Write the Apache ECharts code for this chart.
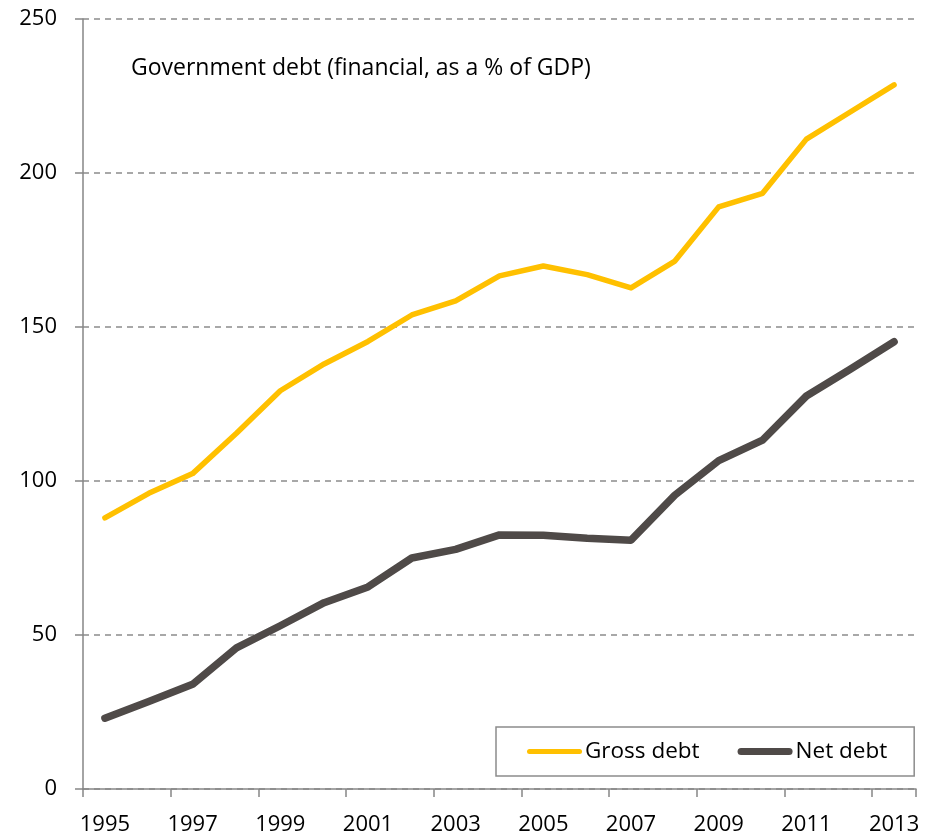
<!DOCTYPE html>
<html>
<head>
<meta charset="utf-8">
<script src="https://cdn.jsdelivr.net/npm/echarts@6/dist/echarts.min.js"></script>
<style>
  html, body { margin: 0; padding: 0; background: #ffffff; }
  #chart { width: 936px; height: 838px; }
</style>
</head>
<body>
<div id="chart"></div>
<script>
// Government debt, financial, as a % of GDP
const years = ['1995','1996','1997','1998','1999','2000','2001','2002','2003','2004',
               '2005','2006','2007','2008','2009','2010','2011','2012','2013'];
const grossDebt = [88.0, 96.0, 102.4, 115.5, 129.3, 138.0, 145.3, 153.9, 158.5, 166.6,
                   169.8, 167.0, 162.7, 171.4, 189.0, 193.4, 211.0, 219.8, 228.6];
const netDebt = [23.0, 28.4, 34.0, 45.8, 53.0, 60.5, 65.6, 75.0, 77.8, 82.5,
                 82.4, 81.4, 80.8, 95.4, 106.6, 113.3, 127.6, 136.3, 145.2];
const seriesNames = ['Gross debt', 'Net debt'];
const titleText = 'Government debt (financial, as a % of GDP)';

const FONT = '"Open Sans", "Noto Sans", sans-serif';
const AXIS_GREY = '#868686';
const GOLD = '#FFC000';
const CHARCOAL = '#4f4a48';

// Legend swatches: a round-ended bar inside a 55x22 box (the corner moves fix the box)
const thinBar = 'path://M0,0M55,22M2.5,8.5h50a2.5,2.5 0 0 1 0,5h-50a2.5,2.5 0 0 1 0,-5z';
const thickBar = 'path://M0,0M55,22M3.5,7.5h48a3.5,3.5 0 0 1 0,7h-48a3.5,3.5 0 0 1 0,-7z';

const chart = echarts.init(document.getElementById('chart'), null, { renderer: 'canvas' });

chart.setOption({
  animation: false,
  backgroundColor: '#ffffff',
  textStyle: { fontFamily: FONT },
  title: {
    text: titleText,
    left: 131,
    top: 57,
    padding: 0,
    textStyle: { fontFamily: FONT, fontSize: 23, fontWeight: 'normal', color: '#000000' }
  },
  grid: { left: 83, right: 20, top: 19, bottom: 49, containLabel: false },
  legend: {
    data: [
      { name: seriesNames[0], icon: thinBar },
      { name: seriesNames[1], icon: thickBar }
    ],
    left: 496,
    top: 727,
    orient: 'horizontal',
    padding: [13, 27, 13, 31],
    itemGap: 38,
    itemWidth: 55,
    itemHeight: 22,
    borderColor: '#8c8c8c',
    borderWidth: 1.5,
    textStyle: { fontFamily: FONT, fontSize: 22.5, color: '#000000', padding: [0, 0, 0, -2] }
  },
  xAxis: {
    type: 'category',
    data: years,
    boundaryGap: true,
    axisLine: { lineStyle: { color: AXIS_GREY, width: 1.5 } },
    axisTick: { show: true, interval: 1, length: 8, alignWithLabel: false,
                lineStyle: { color: AXIS_GREY, width: 1.5 } },
    axisLabel: { interval: 1, margin: 25, fontFamily: FONT, fontSize: 22, color: '#000000' },
    splitLine: { show: false }
  },
  yAxis: {
    type: 'value',
    min: 0,
    max: 250,
    interval: 50,
    axisLine: { show: true, lineStyle: { color: AXIS_GREY, width: 1.5 } },
    axisTick: { show: true, length: 8, lineStyle: { color: AXIS_GREY, width: 1.5 } },
    axisLabel: { margin: 26, fontFamily: FONT, fontSize: 22, color: '#000000' },
    splitLine: { show: true, lineStyle: { color: '#8c8c8c', width: 1.5, type: [6, 5] } }
  },
  series: [
    {
      name: seriesNames[0],
      type: 'line',
      data: grossDebt,
      symbol: 'none',
      lineStyle: { color: GOLD, width: 5.5, cap: 'round', join: 'round' },
      itemStyle: { color: GOLD },
      z: 3
    },
    {
      name: seriesNames[1],
      type: 'line',
      data: netDebt,
      symbol: 'none',
      lineStyle: { color: CHARCOAL, width: 7.5, cap: 'round', join: 'round' },
      itemStyle: { color: CHARCOAL },
      z: 2
    }
  ]
});
</script>
</body>
</html>
